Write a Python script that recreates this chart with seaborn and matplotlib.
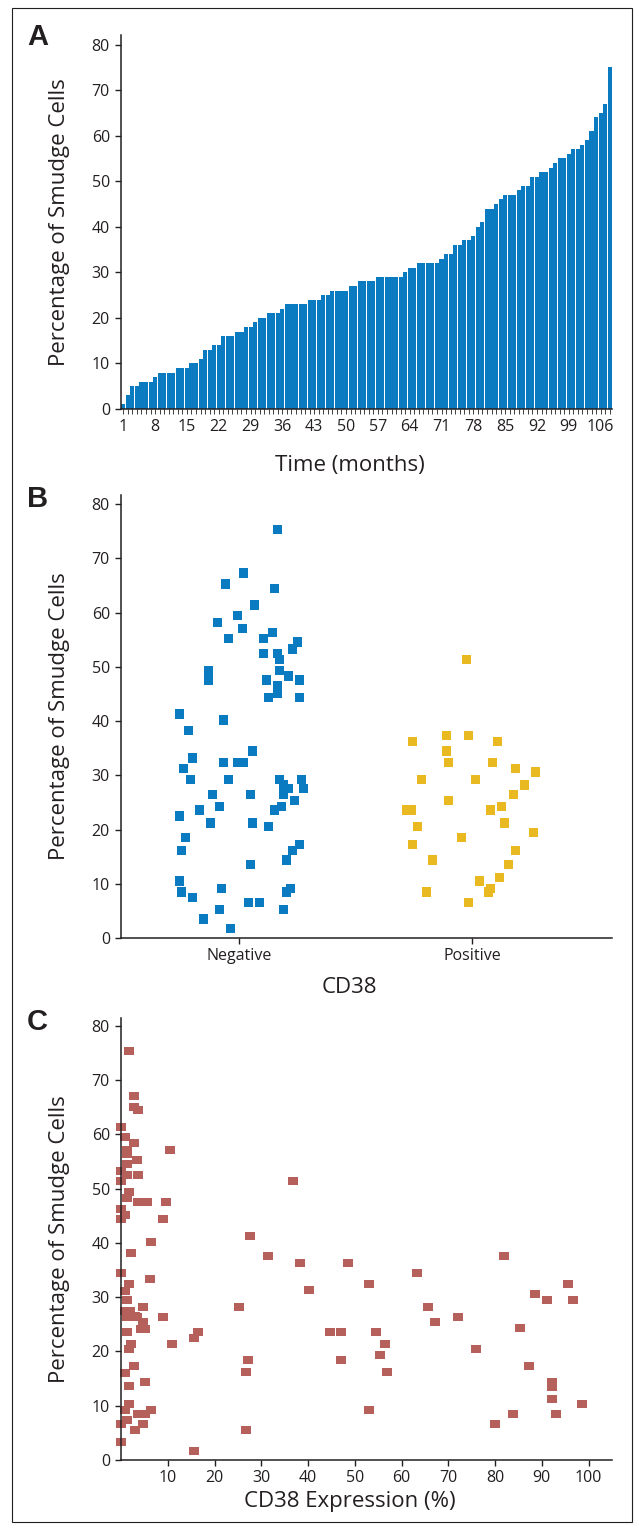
import pandas as pd
import matplotlib
matplotlib.use("Agg")
import matplotlib.pyplot as plt
import seaborn as sns
from matplotlib.patches import Rectangle

# --- Panel A: smudge cells per month (sorted) ---
months = list(range(1, 109))
smudge_pct = [1, 3, 5, 5, 6, 6, 6, 7, 8, 8, 8, 8, 9, 9, 9, 10, 10, 11, 13, 13,
              14, 14, 16, 16, 16, 17, 17, 18, 18, 19, 20, 20, 21, 21, 21, 22, 23, 23, 23, 23,
              23, 24, 24, 24, 25, 25, 26, 26, 26, 26, 27, 27, 28, 28, 28, 28, 29, 29, 29, 29,
              29, 29, 30, 31, 31, 32, 32, 32, 32, 32, 33, 34, 34, 36, 36, 37, 37, 38, 40, 41,
              44, 44, 45, 46, 47, 47, 47, 48, 49, 49, 51, 51, 52, 52, 53, 54, 55, 55, 56, 57,
              57, 58, 59, 61, 64, 65, 67, 75]
month_labels = list(range(1, 107, 7))

# --- Panel B: CD38 negative / positive ---
cd38_groups = ["Negative", "Positive"]
neg_pct = [75.4, 67.3, 65.3, 64.5, 61.4, 59.5, 58.2, 57.1, 55.3, 55.3, 56.4, 54.6, 53.3, 52.5, 52.5,
           51.4, 49.4, 49.4, 48.3, 47.6, 47.6, 47.6, 46.5, 45.2, 44.4, 44.4, 41.3, 40.2, 38.3, 34.5,
           33.2, 32.4, 32.4, 32.4, 31.3, 29.3, 29.3, 29.3, 29.3, 28.2, 27.5, 27.5, 26.4, 26.4, 26.4,
           25.4, 24.3, 24.3, 23.6, 23.6, 22.5, 21.2, 21.2, 20.5, 18.6, 17.3, 16.2, 16.2, 14.4, 13.5,
           10.5, 8.5, 9.2, 9.2, 8.5, 7.4, 6.6, 6.6, 5.3, 5.3, 3.5, 1.7]
neg_jitter = [0.163, 0.017, -0.060, 0.150, 0.064, -0.009, -0.095, 0.013, -0.047, 0.103, 0.142, 0.249,
              0.228, 0.103, 0.163, 0.172, -0.133, 0.172, 0.211, -0.133, 0.116, 0.258, 0.163, 0.163,
              0.125, 0.258, -0.258, -0.069, -0.219, 0.056, -0.202, -0.069, -0.009, 0.017, -0.241,
              -0.211, -0.047, 0.172, 0.266, 0.189, 0.211, 0.275, -0.116, 0.047, 0.189, 0.236, -0.086,
              0.180, -0.172, 0.150, -0.258, -0.125, 0.056, 0.125, -0.232, 0.258, -0.249, 0.228, 0.202,
              0.047, -0.258, -0.249, -0.077, 0.219, 0.202, -0.202, 0.039, 0.086, -0.086, 0.189,
              -0.155, -0.039]
pos_pct = [51.4, 36.3, 37.4, 37.4, 36.3, 34.5, 32.4, 32.4, 31.3, 30.6, 29.3, 29.3, 28.2, 26.4, 25.4,
           24.3, 23.6, 23.6, 23.6, 20.5, 21.2, 19.4, 18.6, 17.3, 16.2, 14.4, 13.5, 11.2, 10.5, 9.2,
           8.5, 8.5, 6.6]
pos_jitter = [-0.024, -0.257, -0.110, -0.016, 0.109, -0.110, -0.102, 0.087, 0.186, 0.272, -0.218,
              0.014, 0.225, 0.177, -0.102, 0.126, -0.282, -0.262, 0.079, -0.235, 0.139, 0.263,
              -0.046, -0.257, 0.186, -0.171, 0.156, 0.117, 0.031, 0.079, 0.070, -0.196, -0.016]

# --- Panel C: CD38 expression vs smudge cells ---
cd38_expr = [1.65, 2.7, 2.7, 3.6, 0.1, 0.8, 2.7, 10.4, 1.2, 1.2, 3.4, 1.2, 0.1, 1.2, 3.6, 0.0, 1.65,
             1.2, 3.6, 5.5, 9.6, 0.1, 0.8, 0.1, 8.9, 6.5, 2.1, 0.1, 6.1, 1.65, 0.8, 1.2, 4.6, 0.8,
             1.65, 2.9, 8.9, 1.2, 4.6, 4.2, 5.1, 1.2, 16.4, 15.7, 2.1, 1.65, 10.9, 2.7, 0.8, 5.1,
             1.65, 1.65, 0.8, 6.5, 3.6, 5.1, 1.2, 4.6, 0.1, 2.9, 0.1, 15.7, 2.0, 3.4,
             36.8, 27.6, 31.4, 38.3, 48.6, 82.0, 63.4, 53.1, 95.5, 40.2, 88.6, 91.2, 96.6, 25.2,
             65.7, 67.2, 72.1, 85.4, 44.7, 47.1, 54.6, 27.1, 56.5, 76.0, 55.4, 47.1, 26.7, 56.9,
             87.3, 92.1, 92.1, 92.1, 98.5, 53.1, 83.9, 93.1, 79.9, 26.7]
cd38_smudge = [75.3, 67.1, 65.1, 64.4, 61.3, 59.4, 58.3, 57.0, 57.0, 56.3, 55.2, 54.5, 53.2, 52.4,
               52.4, 51.3, 49.3, 48.2, 47.5, 47.5, 47.5, 46.3, 45.1, 44.3, 44.3, 40.1, 38.2, 34.4,
               33.3, 32.4, 31.2, 29.4, 28.1, 27.4, 27.4, 26.6, 26.3, 26.3, 25.5, 24.2, 24.2, 23.5,
               23.5, 22.4, 21.3, 20.4, 21.3, 17.4, 16.1, 14.3, 13.6, 10.4, 9.3, 9.3, 8.4, 8.4, 7.3,
               6.6, 6.6, 5.5, 3.4, 1.6, 27.4, 26.3,
               51.3, 41.2, 37.5, 36.2, 36.2, 37.5, 34.4, 32.4, 32.4, 31.3, 30.5, 29.4, 29.4, 28.1,
               28.1, 25.5, 26.3, 24.3, 23.5, 23.5, 23.5, 18.5, 21.3, 20.4, 19.3, 18.5, 16.2, 16.2,
               17.4, 14.3, 13.5, 11.2, 10.4, 9.3, 8.4, 8.4, 6.6, 5.5]

BLUE = "#0a7bc1"
GOLD = "#e8b921"
RED = "#b5605a"
INK = "#231f20"

sns.set_theme(style="ticks")
plt.rcParams["font.family"] = ["Open Sans", "DejaVu Sans"]
plt.rcParams.update({
    "axes.edgecolor": INK, "axes.linewidth": 1.1,
    "xtick.color": INK, "ytick.color": INK, "text.color": INK,
    "axes.labelcolor": INK, "xtick.labelsize": 11.5, "ytick.labelsize": 11.5,
    "ytick.major.size": 4.5, "ytick.major.width": 1.0,
    "xtick.major.size": 4.0, "xtick.major.width": 1.0,
})

W, H = 639, 1530
fig = plt.figure(figsize=(W / 100, H / 100), dpi=100)


def box(top, bottom, left=121, right=612):
    return [left / W, 1 - bottom / H, (right - left) / W, (bottom - top) / H]


axA = fig.add_axes(box(35, 409))
axB = fig.add_axes(box(495, 938))
axC = fig.add_axes(box(1018, 1460))

# Panel A
dfA = pd.DataFrame({"month": months, "pct": smudge_pct})
sns.barplot(data=dfA, x="month", y="pct", color=BLUE, saturation=1, width=0.9,
            linewidth=0, errorbar=None, ax=axA)
axA.set_xlim(-0.5, len(months) - 0.5)
axA.set_ylim(0, 82.1)
axA.set_xticks([m - 1 for m in month_labels], labels=[str(m) for m in month_labels])
axA.set_xticks(range(len(months)), minor=True)
axA.tick_params(axis="x", which="both", length=3.5, width=0.6)
axA.set_xlabel("Time (months)")

# Panel B
dfB = pd.DataFrame({
    "group": [cd38_groups[0]] * len(neg_pct) + [cd38_groups[1]] * len(pos_pct),
    "pct": neg_pct + pos_pct,
    "jitter": neg_jitter + pos_jitter,
})
dfB["xpos"] = dfB["group"].map({g: i for i, g in enumerate(cd38_groups)}) + dfB["jitter"]
sns.scatterplot(data=dfB, x="xpos", y="pct", hue="group", palette=[BLUE, GOLD],
                marker="s", s=44, linewidth=0, legend=False, ax=axB)
axB.set_xlim(-0.508, 1.60)
axB.set_ylim(0, 81.7)
axB.set_xticks(range(len(cd38_groups)), labels=cd38_groups, fontsize=11.5)
axB.set_xlabel("CD38")

# Panel C
rect = [(-1, -0.85), (1, -0.85), (1, 0.85), (-1, 0.85)]
sns.scatterplot(x=cd38_expr, y=cd38_smudge, color=RED, marker=rect, s=52,
                linewidth=0, clip_on=False, ax=axC)
axC.set_xlim(0, 105)
axC.set_ylim(0, 81.4)
axC.set_xticks(range(10, 101, 10))
axC.set_xlabel("CD38 Expression (%)")

label_y = {axA: -56 / 374, axB: -49 / 443, axC: -42 / 442}
for ax in (axA, axB, axC):
    sns.despine(ax=ax)
    ax.set_yticks(range(0, 81, 10))
    ax.set_ylabel("Percentage of Smudge Cells", fontsize=16)
    ax.yaxis.set_label_coords(-61 / 491, 0.5)
    ax.yaxis.label.set_va("center")
    ax.xaxis.label.set_size(16)
    ax.xaxis.set_label_coords(0.466, label_y[ax])
    ax.xaxis.label.set_va("center")

for letter, base in (("A", 45), ("B", 507), ("C", 1030)):
    fig.text(27 / W, 1 - base / H, letter, fontsize=21, fontweight="bold",
             family=["Liberation Sans", "DejaVu Sans"], va="baseline", ha="left")

fig.add_artist(Rectangle((12 / W, 8 / H), 620 / W, (H - 7.5 - 8) / H,
                         transform=fig.transFigure, fill=False, lw=0.8, ec=INK))

fig.savefig("out.png", dpi=100)
